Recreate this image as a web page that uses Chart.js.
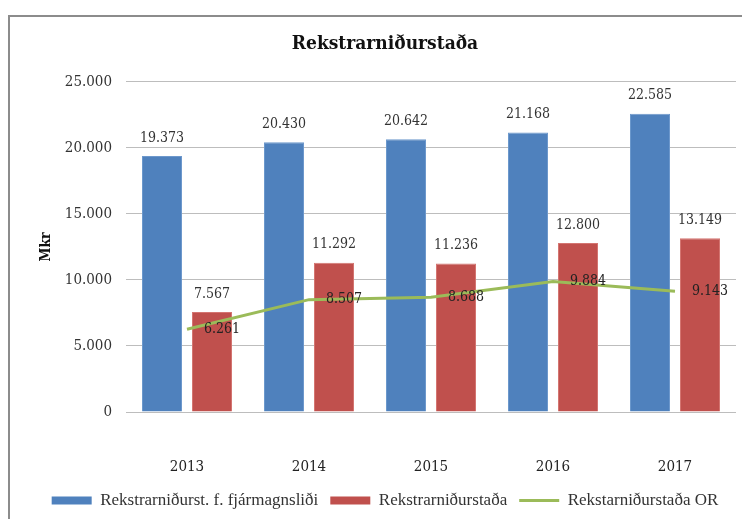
<!DOCTYPE html>
<html>
<head>
<meta charset="utf-8">
<script src="https://cdn.jsdelivr.net/npm/chart.js@4/dist/chart.umd.min.js"></script>
<style>
  body { margin: 0; background: #fff; }
  #frame { position: absolute; left: 8px; top: 15px; width: 745px; height: 520px; border: 2px solid #8c8c8c; }
  #wrap { position: absolute; left: 0; top: 0; width: 742px; height: 519px; }
</style>
</head>
<body>
<div id="frame"></div>
<div id="wrap"><canvas id="chart"></canvas></div>
<script>
const years = ['2013', '2014', '2015', '2016', '2017'];
const fyrirFjarmagnslidi = [19373, 20430, 20642, 21168, 22585];
const rekstrarnidurstada = [7567, 11292, 11236, 12800, 13149];
const nidurstadaOR = [6261, 8507, 8688, 9884, 9143];

const serif = "'DejaVu Serif Condensed', 'DejaVu Serif', serif";
const fmt = v => v.toString().replace(/\B(?=(\d{3})+(?!\d))/g, '.');

// labels above bars, to the right of line points
const valueLabels = {
  id: 'valueLabels',
  afterDatasetsDraw(chart) {
    const ctx = chart.ctx;
    ctx.save();
    ctx.font = '14px ' + serif;
    chart.data.datasets.forEach((ds, i) => {
      const meta = chart.getDatasetMeta(i);
      meta.data.forEach((el, j) => {
        const txt = fmt(ds.data[j]);
        if (meta.type === 'bar') {
          ctx.fillStyle = '#333';
          ctx.textAlign = 'center';
          ctx.textBaseline = 'bottom';
          ctx.fillText(txt, el.x, el.y - 11);
        } else {
          ctx.fillStyle = '#222';
          ctx.textAlign = 'left';
          ctx.textBaseline = 'middle';
          ctx.fillText(txt, el.x + 17, el.y);
        }
      });
    });
    ctx.restore();
  }
};

new Chart(document.getElementById('chart'), {
  type: 'bar',
  data: {
    labels: years,
    datasets: [{
      label: 'Rekstrarniðurst. f. fjármagnsliði',
      data: fyrirFjarmagnslidi,
      backgroundColor: '#4f81bd',
      borderColor: '#6d98cc',
      borderWidth: 1,
      order: 1
    }, {
      label: 'Rekstrarniðurstaða',
      data: rekstrarnidurstada,
      backgroundColor: '#c0504d',
      borderColor: '#d47571',
      borderWidth: 1,
      order: 1
    }, {
      type: 'line',
      label: 'Rekstarniðurstaða OR',
      data: nidurstadaOR,
      borderColor: '#9bbb59',
      backgroundColor: '#9bbb59',
      borderWidth: 3,
      pointRadius: 0,
      tension: 0,
      order: 0
    }]
  },
  options: {
    responsive: true,
    maintainAspectRatio: false,
    animation: false,
    categoryPercentage: 0.82,
    barPercentage: 0.8,
    layout: { padding: { left: 34, right: 6, top: 0, bottom: 0 } },
    plugins: {
      title: {
        display: true,
        text: 'Rekstrarniðurstaða',
        color: '#111',
        font: { family: serif, size: 19, weight: 'bold' },
        padding: { top: 33, bottom: 26 }
      },
      legend: {
        position: 'bottom',
        labels: {
          sort: (a, b) => a.datasetIndex - b.datasetIndex,
          usePointStyle: true,
          pointStyleWidth: 40,
          boxHeight: 8,
          padding: 12,
          color: '#333',
          font: { family: "'Liberation Serif', serif", size: 17 },
          generateLabels(chart) {
            const items = Chart.defaults.plugins.legend.labels.generateLabels(chart);
            items.forEach(it => {
              if (chart.data.datasets[it.datasetIndex].type === 'line') {
                it.pointStyle = 'line';
                it.lineWidth = 3;
              } else {
                it.pointStyle = 'rect';
                it.lineWidth = 0;
              }
            });
            return items;
          }
        }
      },
      tooltip: { enabled: false }
    },
    scales: {
      x: {
        grid: { display: false, drawTicks: false },
        border: { display: false },
        ticks: { color: '#222', padding: 46, font: { family: serif, size: 15 } },
        afterFit(scale) { scale.height = 68; }
      },
      y: {
        min: 0,
        max: 25000,
        ticks: { stepSize: 5000, color: '#333', padding: 14, callback: v => fmt(v), font: { family: serif, size: 15 } },
        grid: { color: '#bdbdbd', drawTicks: false },
        border: { display: false },
        title: { display: true, text: 'Mkr', color: '#111', font: { family: serif, size: 14, weight: 'bold' }, padding: { top: 4 } },
        afterFit(scale) { scale.width = 92; }
      }
    }
  },
  plugins: [valueLabels]
});
</script>
</body>
</html>
